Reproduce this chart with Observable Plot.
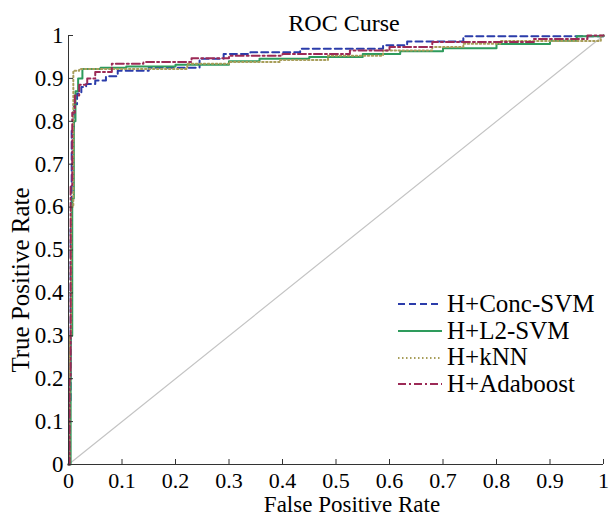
<!DOCTYPE html>
<html><head><meta charset="utf-8">
<script src="https://cdn.jsdelivr.net/npm/d3@7"></script>
<script src="https://cdn.jsdelivr.net/npm/@observablehq/plot@0.6"></script>
<style>
html,body{margin:0;padding:0;background:#fff;}
#wrap{position:relative;width:610px;height:516px;font-family:"Liberation Serif","Times New Roman",serif;}
#legend{position:absolute;left:397px;top:291px;}
.row{display:flex;align-items:center;height:26.7px;font-size:25px;line-height:26.7px;color:#000;white-space:nowrap;}
.row svg{margin-right:5px;display:block;}
</style></head><body><div id="wrap"></div>
<script>
const title = "ROC Curse";
const xLabel = "False Positive Rate";
const yLabel = "True Positive Rate";
const xTicks = [0, 0.1, 0.2, 0.3, 0.4, 0.5, 0.6, 0.7, 0.8, 0.9, 1];
const yTicks = [0, 0.1, 0.2, 0.3, 0.4, 0.5, 0.6, 0.7, 0.8, 0.9, 1];

const seriesNames = ["H+Conc-SVM", "H+L2-SVM", "H+kNN", "H+Adaboost"];
const seriesColors = ["#2b3caa", "#2e9b5c", "#a89e5a", "#9c2a56"];
const seriesDash = ["7,4", null, "1.5,2.5", "8,3,2,3"];

const fprConc = [0, 0.002, 0.004, 0.006, 0.010, 0.016, 0.024, 0.033, 0.05, 0.07, 0.092, 0.15, 0.245, 0.29, 0.34, 0.433, 0.588, 0.633, 0.738, 1];
const tprConc = [0, 0.15, 0.55, 0.78, 0.84, 0.865, 0.88, 0.887, 0.895, 0.905, 0.918, 0.925, 0.946, 0.957, 0.961, 0.969, 0.977, 0.986, 0.998, 1];

const fprL2 = [0, 0.004, 0.007, 0.010, 0.013, 0.018, 0.026, 0.06, 0.108, 0.2, 0.3, 0.357, 0.45, 0.55, 0.62, 0.7, 0.8, 0.9, 0.95, 1];
const tprL2 = [0, 0.3, 0.62, 0.8, 0.87, 0.9, 0.922, 0.925, 0.928, 0.932, 0.94, 0.946, 0.95, 0.957, 0.963, 0.97, 0.98, 0.988, 0.998, 1];

const fprKnn = [0, 0.002, 0.005, 0.009, 0.02, 0.222, 0.3, 0.395, 0.485, 0.588, 0.68, 0.738, 0.807, 0.995, 1];
const tprKnn = [0, 0.3, 0.6, 0.918, 0.922, 0.934, 0.938, 0.943, 0.953, 0.965, 0.973, 0.981, 0.987, 1.0, 1];

const fprAda = [0, 0.002, 0.004, 0.007, 0.012, 0.02, 0.035, 0.05, 0.081, 0.14, 0.23, 0.3, 0.4, 0.526, 0.6, 0.68, 0.87, 0.97, 1];
const tprAda = [0, 0.2, 0.65, 0.82, 0.86, 0.885, 0.9, 0.915, 0.934, 0.938, 0.947, 0.953, 0.957, 0.965, 0.973, 0.985, 0.992, 1.0, 1];

const diagX = [0, 1];
const diagY = [0, 1];

const seriesFpr = [fprConc, fprL2, fprKnn, fprAda];
const seriesTpr = [tprConc, tprL2, tprKnn, tprAda];

const rows = seriesNames.flatMap((name, s) => seriesFpr[s].map((f, i) => ({name, fpr: f, tpr: seriesTpr[s][i]})));
const diag = diagX.map((x, i) => ({x, y: diagY[i]}));

const axisColor = "#333";
const font = "'Liberation Serif', 'Times New Roman', serif";

const plot = Plot.plot({
  width: 610,
  height: 516,
  marginLeft: 68,
  marginRight: 7,
  marginTop: 35,
  marginBottom: 52,
  style: {fontFamily: font, fontSize: "24px", background: "#fff", color: "#000", overflow: "visible"},
  x: {domain: [0, 1]},
  y: {domain: [0, 1]},
  marks: [
    Plot.line(diag, {x: "x", y: "y", stroke: "#c4c4c4", strokeWidth: 1.2}),
    ...seriesNames.map((name, s) => Plot.line(rows.filter(d => d.name === name), {
      x: "fpr", y: "tpr", curve: "step-after",
      stroke: seriesColors[s], strokeWidth: 2, strokeDasharray: seriesDash[s]
    })),
    Plot.ruleY([0], {stroke: axisColor}),
    Plot.ruleX([0], {stroke: axisColor}),
    Plot.axisX({ticks: xTicks, anchor: "bottom", tickSize: -5, tickFormat: () => "", label: null, stroke: axisColor}),
    Plot.axisY({ticks: yTicks, anchor: "left", tickSize: -5, tickFormat: () => "", label: null, stroke: axisColor}),
    Plot.text(xTicks, {x: d => d, frameAnchor: "bottom", text: d => String(d), lineAnchor: "top", textAnchor: "middle", dy: 8, fontSize: 22}),
    Plot.text(yTicks, {y: d => d, frameAnchor: "left", text: d => String(d), lineAnchor: "middle", textAnchor: "end", dx: -5, fontSize: 23}),
    Plot.text([title], {text: d => d, frameAnchor: "top", dy: -12, dx: 8, fontSize: 24, lineAnchor: "middle", textAnchor: "middle"}),
    Plot.text([xLabel], {text: d => d, frameAnchor: "bottom", dy: 40, dx: 16, fontSize: 23, lineAnchor: "middle", textAnchor: "middle"}),
    Plot.text([yLabel], {text: d => d, frameAnchor: "left", rotate: -90, dx: -48, dy: 30, fontSize: 25, lineAnchor: "middle", textAnchor: "middle"})
  ]
});

const wrap = document.getElementById("wrap");
wrap.appendChild(plot);

const legend = document.createElement("div");
legend.id = "legend";
seriesNames.forEach((name, s) => {
  const row = document.createElement("div");
  row.className = "row";
  const ns = "http://www.w3.org/2000/svg";
  const svg = document.createElementNS(ns, "svg");
  svg.setAttribute("width", "45");
  svg.setAttribute("height", "10");
  const line = document.createElementNS(ns, "line");
  line.setAttribute("x1", "1");
  line.setAttribute("x2", "45");
  line.setAttribute("y1", "5");
  line.setAttribute("y2", "5");
  line.setAttribute("stroke", seriesColors[s]);
  line.setAttribute("stroke-width", "2");
  if (seriesDash[s]) line.setAttribute("stroke-dasharray", seriesDash[s]);
  svg.appendChild(line);
  row.appendChild(svg);
  const span = document.createElement("span");
  span.textContent = name;
  row.appendChild(span);
  legend.appendChild(row);
});
wrap.appendChild(legend);
</script>
</body></html>
